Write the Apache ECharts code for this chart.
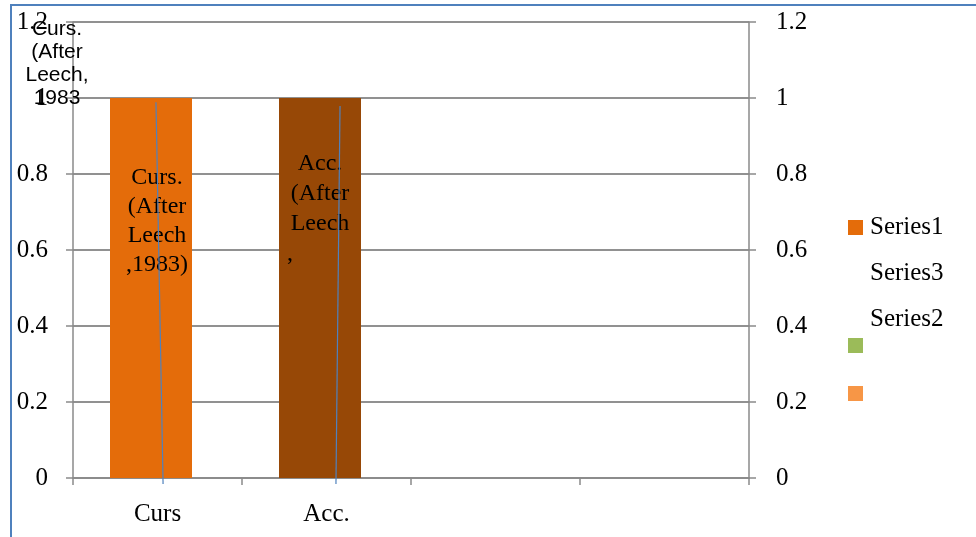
<!DOCTYPE html>
<html>
<head>
<meta charset="utf-8">
<script src="https://cdn.jsdelivr.net/npm/echarts@6/dist/echarts.min.js"></script>
<style>
  html, body { margin: 0; padding: 0; background: #fff; }
  #chart { width: 976px; height: 537px; }
</style>
</head>
<body>
<div id="chart"></div>
<script>
// categories and values
const categories = ['Curs', 'Acc.', '', ''];
const series1Values = [1, 1, null, null];
const series3Values = [null, null, null, null];
const barColors = ['#E46C0A', '#974806'];
const barLabels = [
  'Curs.\n(After\nLeech\n,1983)',
  'Acc.\n(After\nLeech\n,\u00a0\u00a0\u00a0\u00a0\u00a0\u00a0\u00a0\u00a0\u00a0\u00a0'
];
// leader lines (x in category units, y in axis units)
const leaderCurs = [[0.491, 0.989], [0.533, -0.016]];
const leaderAcc = [[1.580, 0.979], [1.556, -0.016]];
const yMin = 0, yMax = 1.2, yStep = 0.2;

const serif = '"Liberation Serif", "Times New Roman", serif';
const sans = '"Liberation Sans", Arial, sans-serif';

const chart = echarts.init(document.getElementById('chart'));

const axisGrey = '#8a8a8a';
function valueAxis(pos, margin) {
  return {
    type: 'value',
    position: pos,
    min: yMin,
    max: yMax,
    interval: yStep,
    axisLine: { show: true, lineStyle: { color: axisGrey, width: 1.5 } },
    axisTick: { show: true, length: 7, lineStyle: { color: axisGrey, width: 1.5 } },
    splitLine: { show: true, lineStyle: { color: axisGrey, width: 1.5 } },
    axisLabel: { color: '#000', fontFamily: serif, fontSize: 25, margin: margin }
  };
}

const option = {
  animation: false,
  grid: { left: 73, right: 227, top: 22, bottom: 59, containLabel: false },
  legend: {
    orient: 'vertical',
    left: 848,
    top: 215,
    padding: 0,
    itemWidth: 15,
    itemHeight: 15,
    itemGap: 21,
    textStyle: { color: '#000', fontFamily: serif, fontSize: 25, padding: [0, 0, 0, 2] },
    data: [
      { name: 'Series1', icon: 'rect', itemStyle: { color: barColors[0] } },
      { name: 'Series3', icon: 'none' },
      { name: 'Series2', icon: 'none' }
    ]
  },
  xAxis: [{
    type: 'category',
    data: categories,
    axisLine: { lineStyle: { color: axisGrey, width: 1.5 } },
    axisTick: { show: true, length: 7, interval: 0, lineStyle: { color: axisGrey, width: 1.5 } },
    axisLabel: { color: '#000', fontFamily: serif, fontSize: 25, margin: 24, interval: 0 }
  }, {
    type: 'value',
    min: 0,
    max: categories.length,
    show: false
  }],
  yAxis: [valueAxis('left', 25), valueAxis('right', 27)],
  series: [{
    name: 'Series1',
    type: 'bar',
    barWidth: 82,
    barGap: 0,
    data: series1Values.map(function (v, i) {
      return {
        value: v,
        itemStyle: { color: barColors[i] },
        label: {
          show: v != null,
          formatter: barLabels[i],
          position: i === 0 ? [47, 65] : [41, 51],
          align: 'center',
          verticalAlign: 'top',
          color: '#000',
          fontFamily: serif,
          fontSize: 24,
          lineHeight: i === 0 ? 29 : 30
        }
      };
    })
  }, {
    name: 'Series3',
    type: 'bar',
    barWidth: 13,
    data: series3Values
  }, {
    name: 'Series2',
    type: 'line',
    xAxisIndex: 1,
    clip: false,
    symbol: 'none',
    z: 5,
    lineStyle: { color: '#4F81BD', width: 1.2 },
    data: leaderCurs
  }, {
    name: 'Series2',
    type: 'line',
    xAxisIndex: 1,
    clip: false,
    symbol: 'none',
    z: 5,
    lineStyle: { color: '#4F81BD', width: 1.2 },
    data: leaderAcc
  }],
  graphic: [
    // outer frame
    { type: 'polyline', shape: { points: [[11, 537], [11, 5], [976, 5]] },
      style: { stroke: '#4F81BD', lineWidth: 2, fill: null } },
    // moved data label
    { type: 'text', x: 57, y: 18, z: 10,
      style: { text: 'Curs.\n(After\nLeech,\n1983', align: 'center',
               fill: '#000', font: '21px ' + sans, lineHeight: 23 } },
    { type: 'rect', shape: { x: 848, y: 338, width: 15, height: 15 }, style: { fill: '#9BBB59' } },
    { type: 'rect', shape: { x: 848, y: 386, width: 15, height: 15 }, style: { fill: '#F79646' } }
  ]
};

chart.setOption(option);
</script>
</body>
</html>
